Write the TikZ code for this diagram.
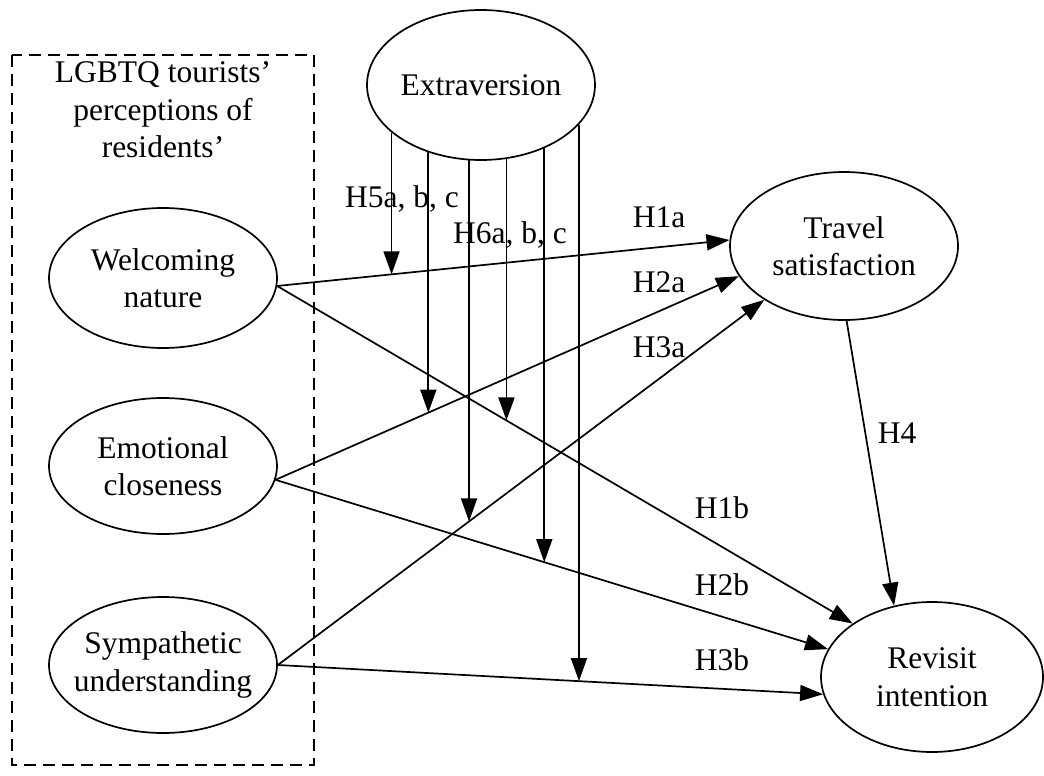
\documentclass[tikz,border=0pt]{standalone}
\usepackage{fontspec}
\setmainfont{Liberation Serif}
\usetikzlibrary{arrows.meta,shapes.geometric,intersections}
\begin{document}
\begin{tikzpicture}[x=1pt,y=-1pt,
  every node/.style={font=\fontsize{31.5}{37.5}\selectfont},
  oval/.style={ellipse, draw, line width=1.7pt, inner sep=0pt},
  conn/.style={line width=1.7pt, -{Triangle[length=23pt,width=16pt]}},
  grpbox/.style={line width=1.6pt, dash pattern=on 12pt off 7pt},
]
\useasboundingbox (0,0) rectangle (1044,776);
\draw[grpbox] (12,55) rectangle (314,765);
\node[align=center] (grp) at (163,110) {LGBTQ tourists’\\perceptions of\\residents’};

\node[oval, minimum width=228pt, minimum height=150pt,
  label={center:Extraversion}] (ext) at (481,85) {};
\node[oval, minimum width=228pt, minimum height=140pt,
  label={[align=center]center:Welcoming\\nature}] (wel) at (163,278) {};
\node[oval, minimum width=228pt, minimum height=136pt,
  label={[align=center]center:Emotional\\closeness}] (emo) at (163,466) {};
\node[oval, minimum width=228pt, minimum height=136pt,
  label={[align=center]center:Sympathetic\\understanding}] (sym) at (163,665) {};
\node[oval, minimum width=228pt, minimum height=148pt,
  label={[align=center]center:Travel\\satisfaction}] (ts) at (844,246) {};
\node[oval, minimum width=222pt, minimum height=150pt,
  label={[align=center]center:Revisit\\intention}] (rev) at (932,677) {};

\draw[conn, name path=h1a] (wel.-4.5) -- (ts.177);
\draw[conn, name path=h2a] (emo.-7) -- (ts.-164.7);
\draw[conn, name path=h3a] (sym.east) -- (ts.-146.3);
\draw[conn, name path=h1b] (wel.-4.5) -- (rev.146.6);
\draw[conn, name path=h2b] (emo.-7) -- (rev.165.1);
\draw[conn, name path=h3b] (sym.east) -- (rev.-171.6);
\draw[conn] (ts.-88) -- (rev.118.4);

\path[name path=v1] (ext.-152.3) -- ++(0,700);
\path[name path=v2] (ext.-128.6) -- ++(0,700);
\path[name path=v3] (ext.-99.9) -- ++(0,700);
\path[name path=v4] (ext.-71.1) -- ++(0,700);
\path[name path=v5] (ext.-45.4) -- ++(0,700);
\path[name path=v6] (ext.-22.8) -- ++(0,700);
\path[name intersections={of=v1 and h1a, by=m1}];
\path[name intersections={of=v2 and h2a, by=m2}];
\path[name intersections={of=v3 and h3a, by=m3}];
\path[name intersections={of=v4 and h1b, by=m4}];
\path[name intersections={of=v5 and h2b, by=m5}];
\path[name intersections={of=v6 and h3b, by=m6}];
\draw[conn] (ext.-152.3) -- (m1);
\draw[conn] (ext.-128.6) -- (m2);
\draw[conn] (ext.-99.9) -- (m3);
\draw[conn] (ext.-71.1) -- (m4);
\draw[conn] (ext.-45.4) -- (m5);
\draw[conn] (ext.-22.8) -- (m6);

\node (l5) at (402,199) {H5a, b, c};
\node (l6) at (510,235) {H6a, b, c};
\node (l1a) at (659,217) {H1a};
\node (l2a) at (659,282) {H2a};
\node (l3a) at (659,347) {H3a};
\node (l4) at (897,433) {H4};
\node (l1b) at (722,508) {H1b};
\node (l2b) at (722,585) {H2b};
\node (l3b) at (722,660) {H3b};
\end{tikzpicture}
\end{document}
